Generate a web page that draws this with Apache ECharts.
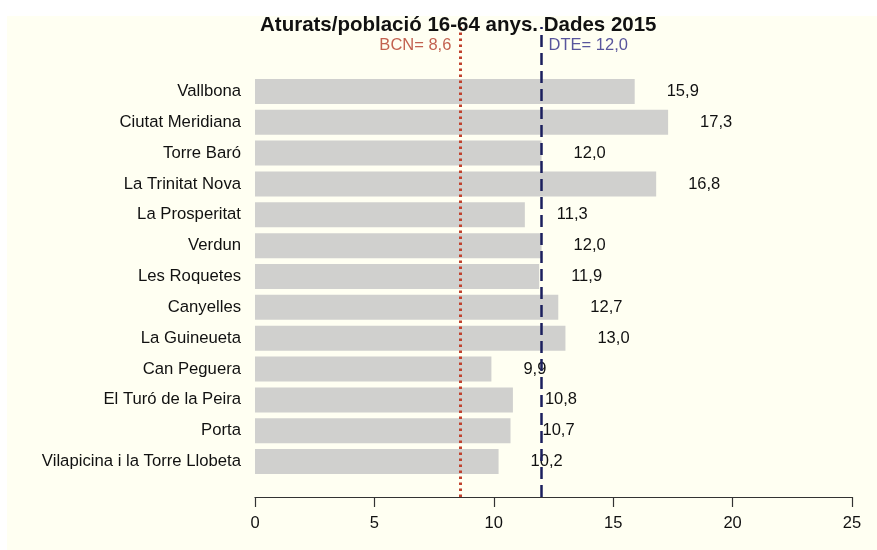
<!DOCTYPE html>
<html>
<head>
<meta charset="utf-8">
<script src="https://cdn.jsdelivr.net/npm/echarts@6/dist/echarts.min.js"></script>
<style>
  html, body { margin: 0; padding: 0; background: #fff; }
  .paper { position: absolute; left: 7px; top: 16px; width: 870px; height: 534px; background: #fffff2; }
  #chart { position: absolute; left: 0; top: 0; width: 877px; height: 550px; }
</style>
</head>
<body>
<div class="paper"></div>
<div id="chart"></div>
<script>
const categories = [
  'Vallbona', 'Ciutat Meridiana', 'Torre Baró', 'La Trinitat Nova', 'La Prosperitat',
  'Verdun', 'Les Roquetes', 'Canyelles', 'La Guineueta', 'Can Peguera',
  'El Turó de la Peira', 'Porta', 'Vilapicina i la Torre Llobeta'
];
const values = [15.9, 17.3, 12.0, 16.8, 11.3, 12.0, 11.9, 12.7, 13.0, 9.9, 10.8, 10.7, 10.2];
const xTicks = [0, 5, 10, 15, 20, 25];
const bcn = 8.6;
const dte = 12.0;

const font = '"Liberation Sans", Arial, Helvetica, sans-serif';
const fmt = (v) => v.toFixed(1).replace('.', ',');

const chart = echarts.init(document.getElementById('chart'));

chart.setOption({
  backgroundColor: 'transparent',
  animation: false,
  title: {
    text: 'Aturats/població 16-64 anys. Dades 2015',
    left: 255,
    top: 10,
    textStyle: { fontFamily: font, fontSize: 20.5, fontWeight: 'bold', color: '#111' },
  },
  grid: [
    { left: 255, right: 25, top: 76, bottom: 73 },
    { left: 255, right: 25, top: 27, bottom: 53 },
  ],
  xAxis: [
    {
      gridIndex: 0,
      type: 'value',
      min: xTicks[0],
      max: xTicks[xTicks.length - 1],
      interval: 5,
      offset: 20,
      axisLine: { show: true, lineStyle: { color: '#333', width: 1.2 } },
      axisTick: { show: true, length: 10, lineStyle: { color: '#333', width: 1.2 } },
      axisLabel: { margin: 18, fontFamily: font, fontSize: 16.5, color: '#111' },
      splitLine: { show: false },
    },
    {
      gridIndex: 1,
      type: 'value',
      min: 0,
      max: 25,
      show: false,
    },
  ],
  yAxis: [
    {
      gridIndex: 0,
      type: 'category',
      data: categories,
      inverse: true,
      axisLine: { show: false },
      axisTick: { show: false },
      axisLabel: { margin: 14, fontFamily: font, fontSize: 16.7, color: '#111' },
    },
    {
      gridIndex: 1,
      type: 'value',
      min: 0,
      max: 1,
      show: false,
    },
  ],
  series: [
    {
      type: 'bar',
      xAxisIndex: 0,
      yAxisIndex: 0,
      data: values,
      barCategoryGap: '19%',
      itemStyle: { color: '#d0d0ce' },
      label: {
        show: true,
        position: 'right',
        distance: 32,
        fontFamily: font,
        fontSize: 16.5,
        color: '#111',
        formatter: (p) => fmt(p.value),
      },
      z: 2,
    },
    {
      type: 'scatter',
      xAxisIndex: 1,
      yAxisIndex: 1,
      symbolSize: 0,
      silent: true,
      z: 5,
      data: [
        {
          value: [bcn, 0.96],
          label: { show: true, position: 'left', distance: 9, formatter: 'BCN= ' + fmt(bcn), color: '#b33a26' },
        },
        {
          value: [dte, 0.96],
          label: { show: true, position: 'right', distance: 7, formatter: 'DTE= ' + fmt(dte), color: '#2e2a86' },
        },
      ],
      label: { fontFamily: font, fontSize: 16.5 },
      markLine: {
        silent: true,
        symbol: 'none',
        label: { show: false },
        data: [
          { xAxis: bcn, lineStyle: { color: '#c0412d', width: 3, type: [2.5, 3.5] } },
          { xAxis: dte, lineStyle: { color: '#1b1f5e', width: 2.5, type: [12, 6] } },
        ],
      },
    },
  ],
});
</script>
</body>
</html>
